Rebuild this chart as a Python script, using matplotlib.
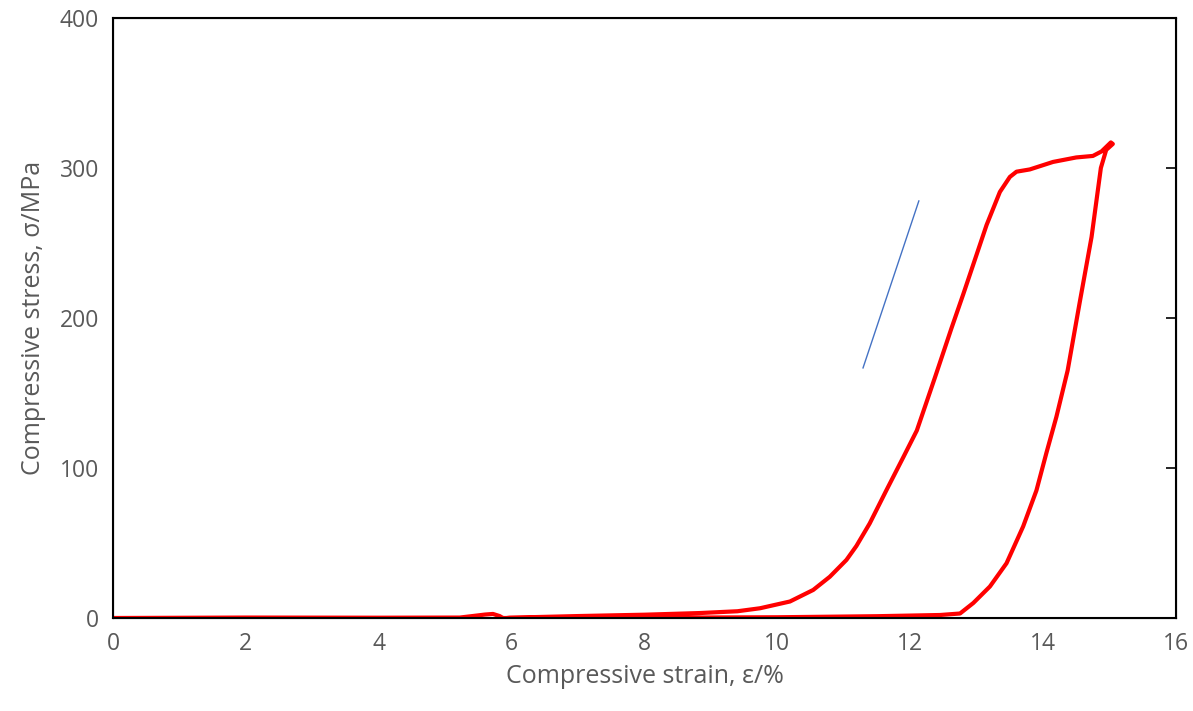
import matplotlib

matplotlib.use("Agg")
import matplotlib.pyplot as plt

# loading branch (strain %, stress MPa)
load_strain = [0.0, 2.0, 4.0, 5.22, 5.45, 5.6, 5.72, 5.82, 5.88, 5.97, 7.0, 8.0, 8.83, 9.4,
               9.74, 10.19, 10.54, 10.79, 11.04, 11.19, 11.39, 11.64, 11.9, 12.1, 12.37,
               12.62, 12.8, 13.15, 13.35, 13.5, 13.6, 13.8, 14.15, 14.5, 14.75, 14.88, 15.02]
load_stress = [0.0, 0.3, 0.2, 0.3, 1.5, 2.3, 2.7, 1.3, -0.3, 0.2, 1.3, 2.2, 3.3, 4.5,
               6.5, 11.0, 18.7, 27.5, 38.7, 48.0, 63.0, 85.0, 107.5, 125.0, 160.0,
               193.0, 216.0, 262.0, 284.0, 294.0, 297.5, 299.0, 304.0, 307.0, 308.0, 311.0, 317.0]

# unloading branch
unload_strain = [15.02, 15.05, 14.95, 14.87, 14.73, 14.55, 14.37, 14.2, 14.05, 13.9,
                 13.7, 13.45, 13.2, 12.95, 12.75, 12.45, 11.5, 10.0, 8.0, 5.9]
unload_stress = [317.0, 316.0, 312.0, 300.0, 254.0, 210.0, 165.0, 134.0, 110.0, 85.0,
                 61.0, 36.5, 21.0, 10.0, 3.0, 2.0, 1.2, 0.5, 0.2, 0.0]

# slope guide line
guide_strain = [11.29, 12.13]
guide_stress = [166.7, 278.0]

plt.rcParams["font.family"] = ["Open Sans", "DejaVu Sans"]
grey = "#595959"

fig = plt.figure(figsize=(11.93, 7.11), dpi=100)
ax = fig.add_axes([0.0947, 0.1308, 0.891, 0.844])

ax.plot(load_strain + unload_strain[1:], load_stress + unload_stress[1:],
        color="#ff0000", lw=3.0, solid_joinstyle="round")
ax.plot(guide_strain, guide_stress, color="#4472c4", lw=1.0)

ax.set_xlim(0, 16)
ax.set_ylim(0, 400)
ax.set_xticks(range(0, 17, 2))
ax.set_yticks(range(0, 401, 100))
ax.tick_params(axis="both", length=0, labelsize=16.5, labelcolor=grey, pad=10)
for s in ax.spines.values():
    s.set_color("black")
    s.set_linewidth(1.5)

ax2 = ax.twinx()
ax2.set_ylim(0, 400)
ax2.set_yticks([100, 200, 300])
ax2.tick_params(axis="y", direction="in", length=7, width=1.2, labelright=False)

ax.set_xlabel("Compressive strain, ε/%", fontsize=18, color=grey, labelpad=6)
ax.set_ylabel("Compressive stress, σ/MPa", fontsize=18, color=grey, labelpad=10)

fig.savefig("out.png", dpi=100)
